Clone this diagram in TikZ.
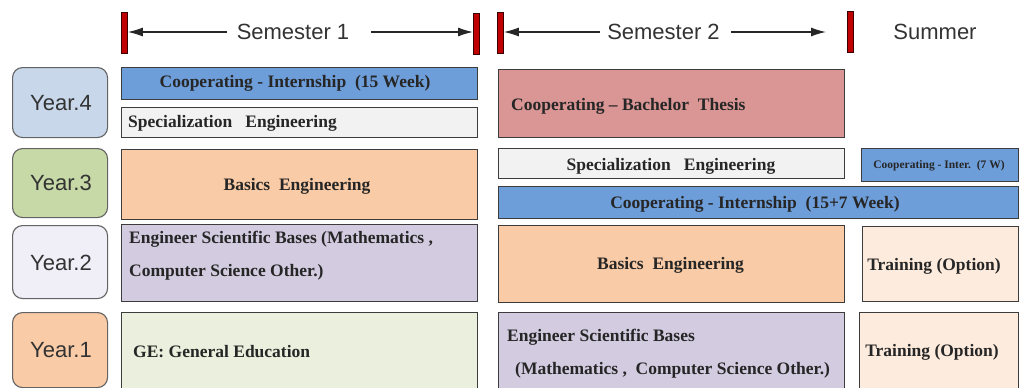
\documentclass[tikz,border=0pt]{standalone}
\usepackage{fontspec}
\setmainfont{Liberation Serif}
\newfontfamily\arialf{Liberation Sans}
\usetikzlibrary{arrows.meta,calc}
\definecolor{yfour}{HTML}{C8D7EA}
\definecolor{ythree}{HTML}{C6D9A6}
\definecolor{ytwo}{HTML}{F0EEF6}
\definecolor{yone}{HTML}{F9CBA7}
\definecolor{cblue}{HTML}{6E9EDA}
\definecolor{cgray}{HTML}{F2F2F2}
\definecolor{cthesis}{HTML}{D99694}
\definecolor{cbasic}{HTML}{F9CBA6}
\definecolor{clav}{HTML}{D3CBE0}
\definecolor{cge}{HTML}{EBEFDD}
\definecolor{ctrain}{HTML}{FDEBDD}
\definecolor{cbar}{HTML}{C00000}
\definecolor{cline}{HTML}{3C3C3C}
\tikzset{
  yearbox/.style={draw=cline!80, line width=1.1pt, rounded corners=10pt, anchor=north west, inner sep=0pt},
  cbox/.style={draw=cline, line width=1.1pt, anchor=north west, inner sep=0pt},
  bartick/.style={draw=black!70!cbar, fill=cbar, line width=0.8pt, anchor=north west, minimum width=6pt, minimum height=41pt, inner sep=0pt},
  yeartxt/.style={font=\arialf\fontsize{22}{24}\selectfont, text=black!80},
  semtxt/.style={font=\arialf\fontsize{22}{24}\selectfont, text=black!80, inner sep=0pt},
  btxt/.style={font=\bfseries\fontsize{17.5}{20}\selectfont, text=black!85, inner sep=0pt},
  stxt/.style={font=\bfseries\fontsize{11.5}{13}\selectfont, text=black!85, inner sep=0pt},
  semarrow/.style={draw=black!85, line width=1.2pt, -{Latex[length=15pt,width=9pt]}}
}
\newcommand{\cb}[6]{\node[cbox, fill=#6, minimum width=#4pt-#2pt, minimum height=#5pt-#3pt] (#1) at (#2,#3) {};}
\newcommand{\yb}[6]{\node[yearbox, fill=#6, minimum width=#4pt-#2pt, minimum height=#5pt-#3pt] (#1) at (#2,#3) {};}
\begin{document}
\begin{tikzpicture}[x=1pt,y=-1pt]
\useasboundingbox (0,0) rectangle (1020,388);
% bars
\node[bartick] (b1) at (121,12) {};
\node[bartick] (b2) at (473,13) {};
\node[bartick] (b3) at (497,12) {};
\node[bartick] (b4) at (847,11) {};
% semester labels
\node[semtxt] (s1) at (293,32) {Semester 1};
\node[semtxt] (s2) at (663.5,32) {Semester 2};
\node[semtxt] (su) at (935,32) {Summer};
\coordinate (s1l) at (227,32);
\coordinate (s1r) at (371,32);
\coordinate (s2l) at (600,32);
\coordinate (s2r) at (731,32);
\coordinate (s2t) at (826,32);
\draw[semarrow] (s1l) -- (b1.east |- s1l);
\draw[semarrow] (s1r) -- (b2.west |- s1r);
\draw[semarrow] (s2l) -- (b3.east |- s2l);
\draw[semarrow] (s2r) -- (s2t);
% year boxes
\yb{y4}{12}{67}{107}{137}{yfour}
\yb{y3}{12}{148}{107}{217}{ythree}
\yb{y2}{12}{225}{107}{298}{ytwo}
\yb{y1}{12}{312}{107}{387}{yone}
\node[yeartxt] (y4t) at (61,103) {Year.4};
\node[yeartxt] (y3t) at (61,183) {Year.3};
\node[yeartxt] (y2t) at (61,263) {Year.2};
\node[yeartxt] (y1t) at (61,350) {Year.1};
% semester 1 column
\cb{a4}{121}{67}{477}{99}{cblue}
\cb{a4b}{121}{107}{477}{137}{cgray}
\cb{a3}{121}{149}{477}{219}{cbasic}
\cb{a2}{121}{224}{477}{301}{clav}
\cb{a1}{121}{312}{477}{388}{cge}
\node[btxt] (a4t) at (295,83) {Cooperating - Internship\ \ (15 Week)};
\node[btxt, anchor=west] (a4bt) at (128,123) {Specialization\ \ \ Engineering};
\node[btxt] (a3t) at (297,186) {Basics\ \ Engineering};
\node[btxt, anchor=west] (a2t1) at (129,239) {Engineer Scientific Bases (Mathematics ,};
\node[btxt, anchor=west] (a2t2) at (129,272) {Computer Science Other.)};
\node[btxt, anchor=west] (a1t) at (133,352) {GE: General Education};
% semester 2 column
\cb{c4}{498}{69}{844}{137}{cthesis}
\cb{c3}{498}{148}{844}{178}{cgray}
\cb{c3b}{498}{186}{1018}{218}{cblue}
\cb{c2}{498}{225}{844}{302}{cbasic}
\cb{c1}{498}{312}{844}{388}{clav}
\node[btxt, anchor=west] (c4t) at (511,106) {Cooperating -- Bachelor\ \ Thesis};
\node[btxt] (c3t) at (671,166) {Specialization\ \ \ Engineering};
\node[btxt] (c3bt) at (755,204) {Cooperating - Internship\ \ (15+7 Week)};
\node[btxt] (c2t) at (670.5,265) {Basics\ \ Engineering};
\node[btxt, anchor=west] (c1t1) at (507,337) {Engineer Scientific Bases};
\node[btxt, anchor=west] (c1t2) at (515,370) {(Mathematics ,\ \ Computer Science Other.)};
% summer column
\cb{d3}{861}{148}{1018}{181}{cblue}
\cb{d2}{862}{226}{1018}{301}{ctrain}
\cb{d1}{859}{312}{1018}{388}{ctrain}
\node[stxt] (d3t) at (939,166) {Cooperating - Inter.\ \ (7 W)};
\node[btxt] (d2t) at (934,266) {Training (Option)};
\node[btxt] (d1t) at (932,352) {Training (Option)};
\end{tikzpicture}
\end{document}
